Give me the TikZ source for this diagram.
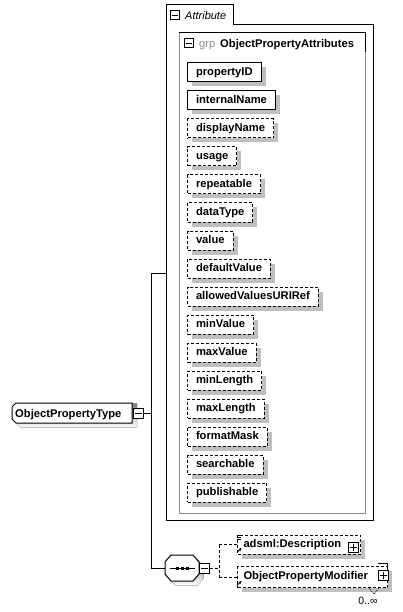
\documentclass[tikz,border=0pt]{standalone}
\usepackage{fontspec}
\setmainfont{Liberation Sans}
\usetikzlibrary{shadows,arrows.meta}
\definecolor{shade}{gray}{0.75}
\definecolor{grpgray}{gray}{0.55}
\begin{document}
\begin{tikzpicture}[x=1pt,y=-1pt,
  every node/.style={font=\fontsize{11.2}{13}\selectfont},
  bfont/.style={font=\fontsize{11.2}{13}\bfseries\selectfont},
  elbox/.style={draw=black, line width=1pt, fill=white, bfont, inner xsep=8.5pt, inner ysep=0pt,
    text height=8pt, text depth=2.5pt, minimum height=19pt, anchor=west,
    drop shadow={shadow xshift=4.5pt, shadow yshift=-4.5pt, fill=shade, opacity=1}},
  optbox/.style={elbox, dash pattern=on 3pt off 2pt},
  pmbox/.style={draw=black, line width=1pt, fill=white, minimum size=10pt, inner sep=0pt},
  conn/.style={line width=1pt},
  dconn/.style={line width=1pt, dash pattern=on 3pt off 2pt},
  lbl/.style={inner sep=0pt, anchor=base west}]
\useasboundingbox (0,0) rectangle (402,612);

% Attribute container
\draw[conn] (166,520) -- (166,5) -- (233,5) -- (233,25) -- (373,25) -- (373,520) -- cycle;
\node[pmbox, minimum size=9pt] (tabm) at (174.5,15.5) {};
\draw[conn] ([xshift=2pt]tabm.west) -- ([xshift=-2pt]tabm.east);
\node[lbl, font=\fontsize{11}{13}\itshape\selectfont] (tabt) at (185,19.5) {Attribute};

% group box
\draw[line width=1pt, draw=grpgray] (179,33) rectangle (365,513);
\draw[conn] (179,33) -- (365,33) -- (365,52);
\node[pmbox, minimum size=9pt] (grpm) at (189,43.5) {};
\draw[conn] ([xshift=2pt]grpm.west) -- ([xshift=-2pt]grpm.east);
\node[lbl, text=grpgray] (grpl) at (199,47.5) {grp};
\node[lbl, bfont] (grpt) at (220,47.5) {ObjectPropertyAttributes};

% attributes
\node[elbox]  (a1)  at (187,72.5)  {propertyID};
\node[elbox]  (a2)  at (187,100.5) {internalName};
\node[optbox] (a3)  at (187,128.5) {displayName};
\node[optbox] (a4)  at (187,156.5) {usage};
\node[optbox] (a5)  at (187,184.5) {repeatable};
\node[optbox] (a6)  at (187,212.5) {dataType};
\node[optbox] (a7)  at (187,240.5) {value};
\node[optbox] (a8)  at (187,268.5) {defaultValue};
\node[optbox] (a9)  at (187,296.5) {allowedValuesURIRef};
\node[optbox] (a10) at (187,324.5) {minValue};
\node[optbox] (a11) at (187,352.5) {maxValue};
\node[optbox] (a12) at (187,380.5) {minLength};
\node[optbox] (a13) at (187,408.5) {maxLength};
\node[optbox] (a14) at (187,436.5) {formatMask};
\node[optbox] (a15) at (187,464.5) {searchable};
\node[optbox] (a16) at (187,492.5) {publishable};

% root type node
\fill[shade] (16.5,407.5) -- (20.5,403.5) -- (137,403.5) -- (137,427.5) -- (20.5,427.5) -- (16.5,423.5) -- cycle;
\draw[conn, fill=white] (12,407) -- (16,403) -- (132,403) -- (132,423) -- (16,423) -- (12,419) -- cycle;
\node[lbl, bfont] (type) at (15,417) {ObjectPropertyType};
\node[pmbox] (tm) at (138,413) {};
\draw[conn] ([xshift=2pt]tm.west) -- ([xshift=-2pt]tm.east);

% main connectors
\coordinate (jt) at (151,413);
\coordinate (ja) at (151,273);
\coordinate (js) at (151,568);
\coordinate (attr) at (166,273);
\draw[conn] (tm.east) -- (jt);
\draw[conn] (ja) -- (js);
\draw[conn] (ja) -- (attr);

% sequence node
\fill[shade] (169.5,566.5) -- (175.5,559.5) -- (197.5,559.5) -- (203.5,566.5) -- (203.5,578.5) -- (197.5,585.5) -- (175.5,585.5) -- (169.5,578.5) -- cycle;
\draw[conn, fill=white] (165,562) -- (171,555) -- (193,555) -- (199,562) -- (199,574) -- (193,581) -- (171,581) -- (165,574) -- cycle;
\node[inner sep=0pt, minimum width=34pt, minimum height=26pt] (seq) at (182,568) {};
\draw[conn] (170,568) -- (195,568);
\fill (175.5,566.5) rectangle (178.5,569.5);
\fill (180.5,566.5) rectangle (183.5,569.5);
\fill (185.5,566.5) rectangle (188.5,569.5);
\draw[conn] (js) -- (seq.west);
\node[pmbox] (sm) at (204.5,568) {};
\draw[conn] ([xshift=2pt]sm.west) -- ([xshift=-2pt]sm.east);

% children
\node[optbox, inner xsep=6pt, text width=111pt, align=left] (desc) at (237,544.5) {adsml:Description};
\node[optbox, inner xsep=6pt, text width=138pt, align=left, minimum height=21pt] (mod) at (237,577) {ObjectPropertyModifier};
\node[pmbox] (descp) at (353.5,547) {};
\draw[conn] ([xshift=2pt]descp.west) -- ([xshift=-2pt]descp.east) ([yshift=2pt]descp.south) -- ([yshift=-2pt]descp.north);
\draw[conn] (378,563) -- (387,563) -- (387,570);
\node[pmbox] (modp) at (383,575) {};
\draw[conn] ([xshift=2pt]modp.west) -- ([xshift=-2pt]modp.east) ([yshift=2pt]modp.south) -- ([yshift=-2pt]modp.north);

% icons
\draw[line width=0.8pt] (236.5,535) -- (241,535) (236.5,537) -- (241,537) (236.5,539) -- (241,539);
\draw[line width=0.8pt, -{Stealth[length=3pt,width=3pt]}] (237,552.5) -- (241.5,548);
\draw[line width=0.8pt, -{Stealth[length=3pt,width=3pt]}] (237,585.5) -- (241.5,581);

% dashed connectors
\coordinate (jd) at (219,568);
\coordinate (jd1) at (219,544.5);
\coordinate (jd2) at (219,577);
\draw[dconn] (sm.east) -- (jd);
\draw[dconn] (jd1) -- (jd2);
\draw[dconn] (jd1) -- (desc.west);
\draw[dconn] (jd2) -- (mod.west);

% occurrence
\draw[line width=0.7pt, dash pattern=on 1pt off 1pt] (369,588) -- (374,594) -- (379,588);
\node[lbl, font=\fontsize{10.5}{12}\selectfont, anchor=base] (occ) at (368,604) {0..∞};
\end{tikzpicture}
\end{document}
